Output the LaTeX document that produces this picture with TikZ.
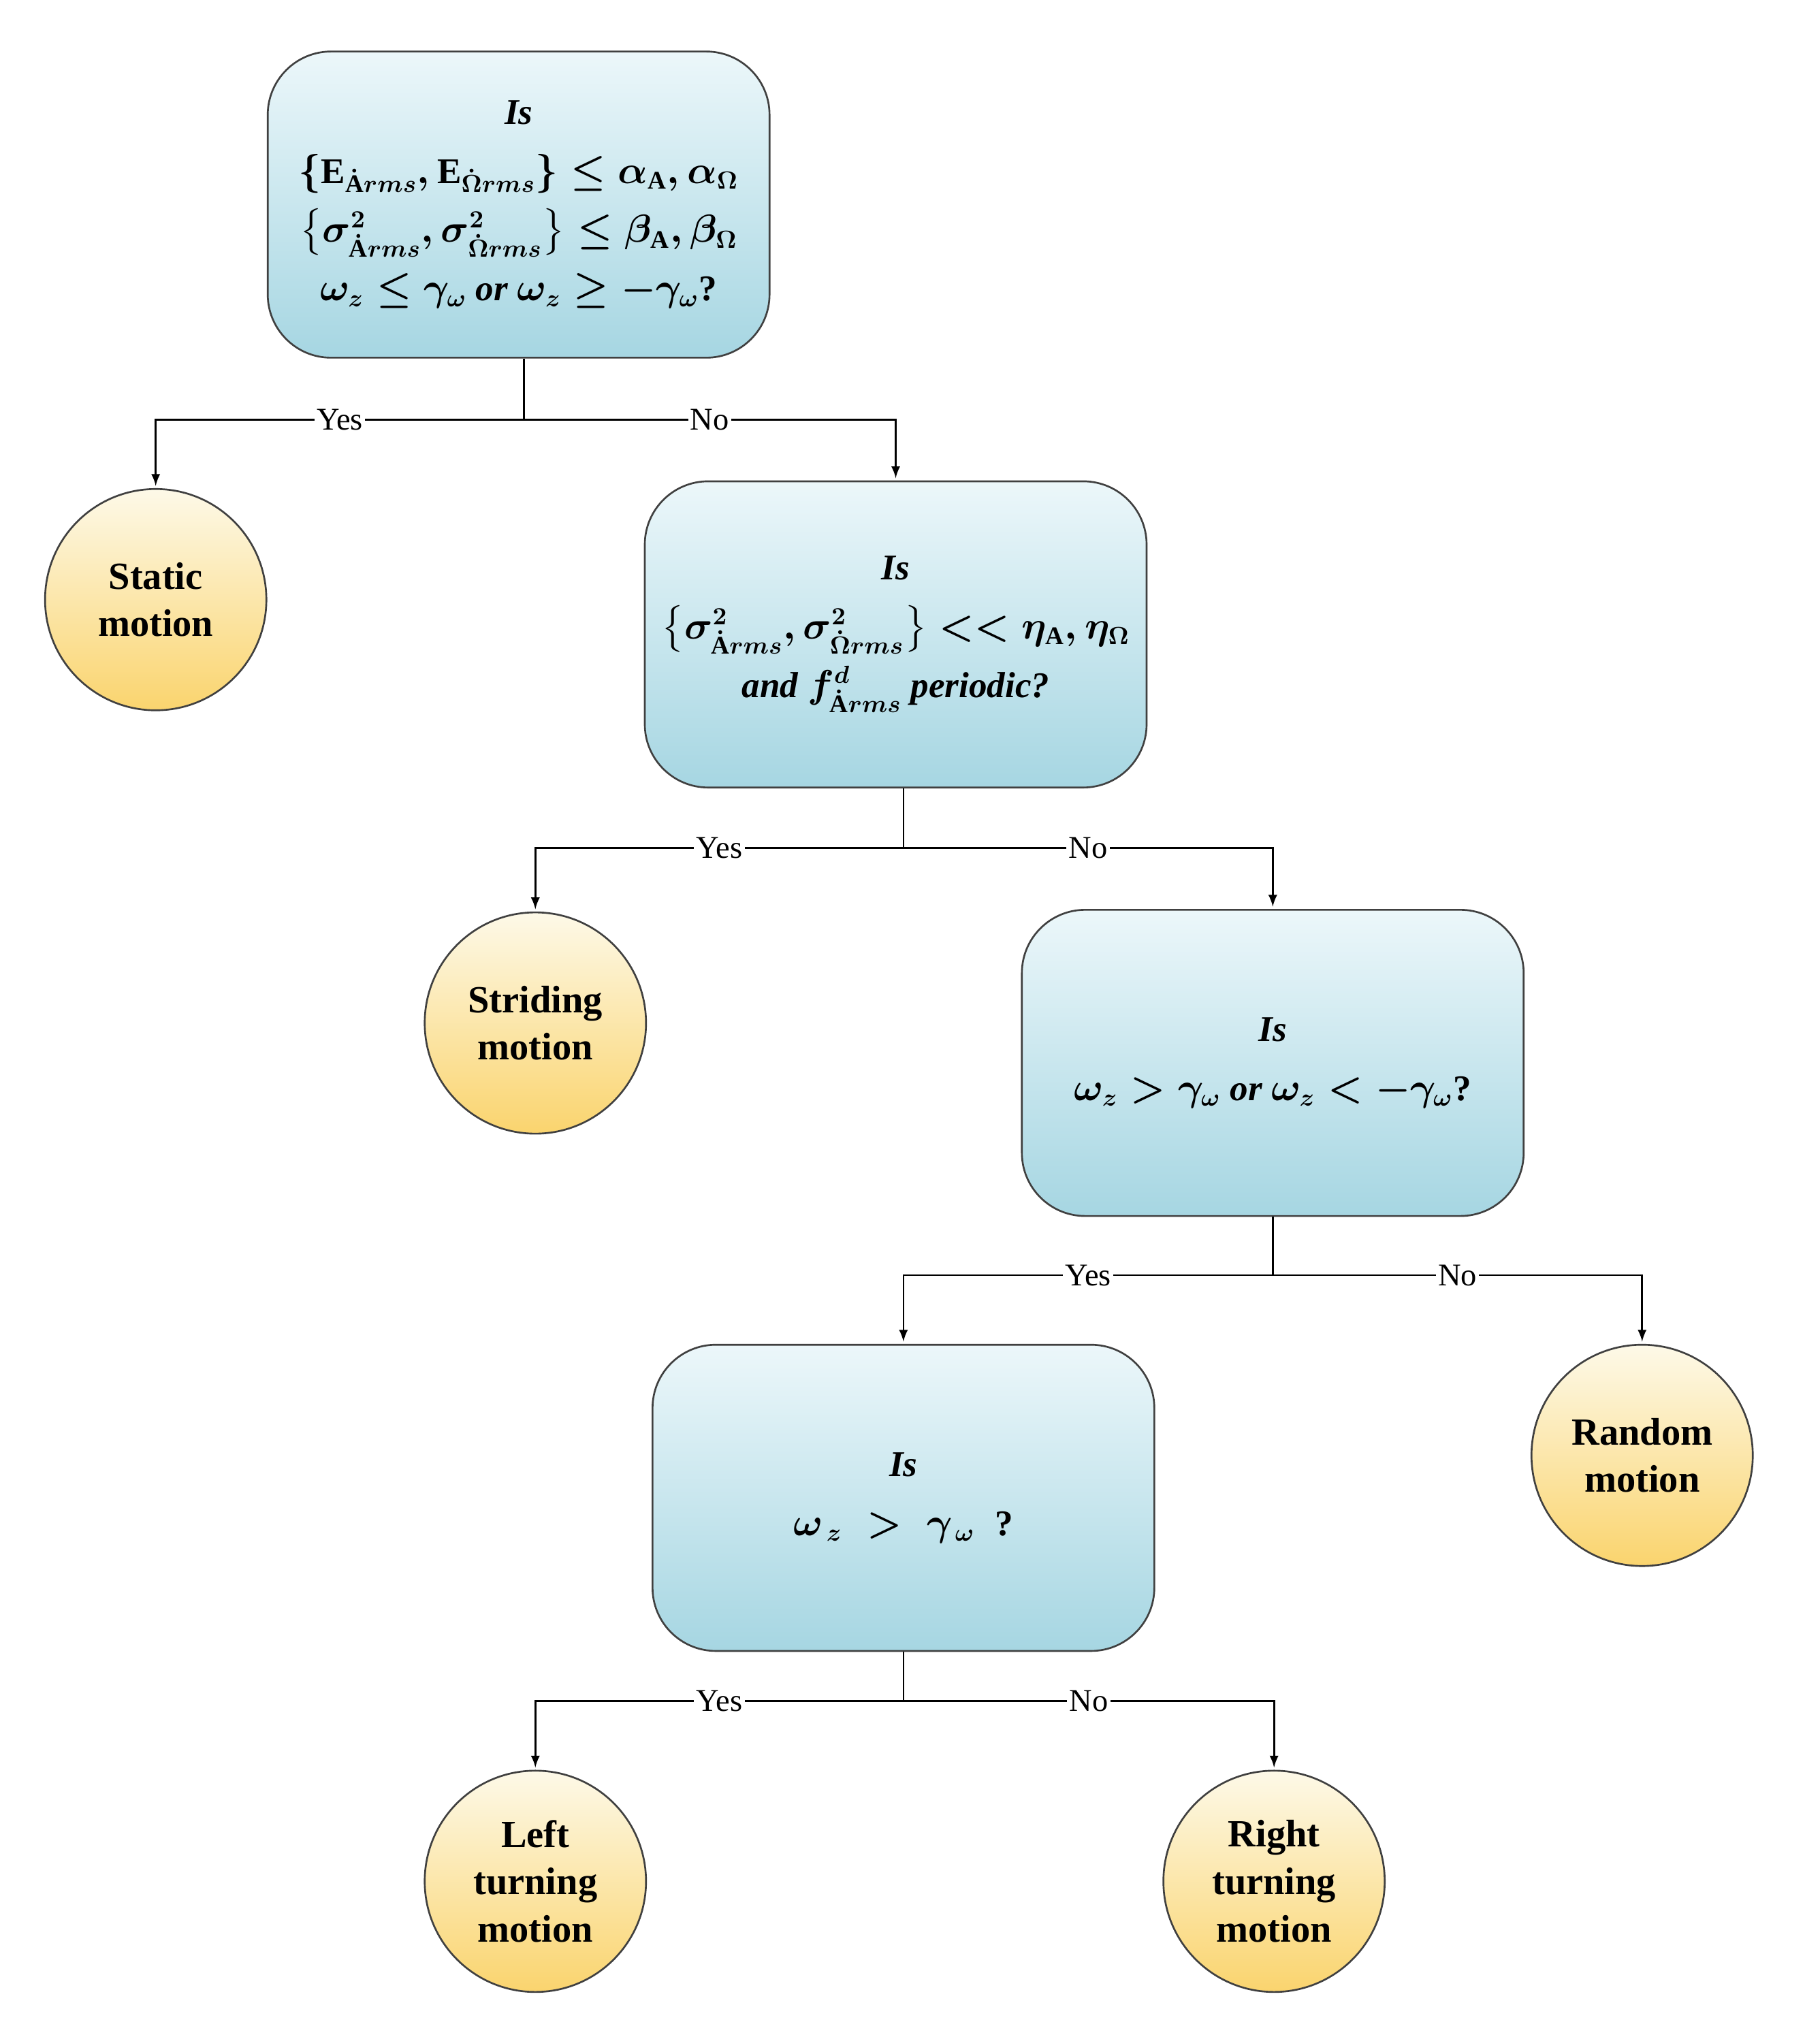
\documentclass[tikz,border=0pt]{standalone}
\usepackage{fontspec}
\usepackage{amsmath}
\setmainfont{Liberation Serif}
\usetikzlibrary{positioning}

\definecolor{boxtop}{RGB}{236,247,250}
\definecolor{boxbot}{RGB}{166,214,226}
\definecolor{leaftop}{RGB}{253,249,232}
\definecolor{leafbot}{RGB}{250,212,110}

\tikzset{
  test/.style={draw=black!75, thick, rounded corners=28pt, minimum width=7.8cm, minimum height=4.76cm,
    top color=boxtop, bottom color=boxbot, align=center,
    font=\fontsize{16}{26}\selectfont\bfseries\boldmath},
  leaf/.style={draw=black!75, thick, circle, minimum size=3.44cm, inner sep=0pt,
    top color=leaftop, bottom color=leafbot, align=center,
    font=\fontsize{17}{21}\selectfont\bfseries},
  arr/.style={-latex, thick, shorten >=1pt, >=latex},
  lbl/.style={fill=white, inner sep=1pt, font=\fontsize{14}{16}\selectfont}
}

\begin{document}
\begin{tikzpicture}[x=0.02cm, y=-0.02cm]
	\useasboundingbox (0,0) rectangle (1414,1583);

	% tests
	\node[test] (t1) at (403,159) {\textit{Is}\\
		$\left\{\mathrm{E}_{\dot{\mathrm{A}}rms},\mathrm{E}_{\dot{\Omega}rms}\right\}\le\alpha_{\mathrm{A}},\alpha_{\Omega}$\\
		$\left\{\sigma^2_{\dot{\mathrm{A}}rms},\sigma^2_{\dot{\Omega}rms}\right\}\le\beta_{\mathrm{A}},\beta_{\Omega}$\\
		$\omega_z\le\gamma_\omega$ \textit{or} $\omega_z\ge-\gamma_\omega$?};
	\node[test] (t2) at (696,493) {\textit{Is}\\
		$\left\{\sigma^2_{\dot{\mathrm{A}}rms},\sigma^2_{\dot{\Omega}rms}\right\}<<\eta_{\mathrm{A}},\eta_{\Omega}$\\
		\textit{and} $f^{d}_{\dot{\mathrm{A}}rms}$ \textit{periodic?}};
	\node[test] (t3) at (989,826) {\textit{Is}\\
		$\omega_z>\gamma_\omega$ \textit{or} $\omega_z<-\gamma_\omega$?};
	\node[test] (t4) at (702,1164) {\textit{Is}\\
		$\omega_{\,z}\;>\;\gamma_{\,\omega}$\;\;?};

	% leaves
	\node[leaf] (static) at (121,466) {Static\\motion};
	\node[leaf] (stride) at (416,795) {Striding\\motion};
	\node[leaf] (random) at (1276,1131) {Random\\motion};
	\node[leaf] (left) at (416,1462) {Left\\turning\\motion};
	\node[leaf] (right) at (990,1462) {Right\\turning\\motion};

	% branches
	\draw[thick] (t1.south -| 407,0) -- (407,326) coordinate (j1);
	\draw[arr] (j1) -- node[lbl]{Yes} (j1 -| static) -- (static);
	\draw[arr] (j1) -- node[lbl]{No} (j1 -| t2) -- (t2);

	\draw[thick] (t2.south -| 702,0) -- (702,659) coordinate (j2);
	\draw[arr] (j2) -- node[lbl]{Yes} (j2 -| stride) -- (stride);
	\draw[arr] (j2) -- node[lbl]{No} (j2 -| t3) -- (t3);

	\draw[thick] (t3.south) -- (989,991) coordinate (j3);
	\draw[arr] (j3) -- node[lbl]{Yes} (j3 -| t4) -- (t4);
	\draw[arr] (j3) -- node[lbl]{No} (j3 -| random) -- (random);

	\draw[thick] (t4.south) -- (702,1322) coordinate (j4);
	\draw[arr] (j4) -- node[lbl]{Yes} (j4 -| left) -- (left);
	\draw[arr] (j4) -- node[lbl]{No} (j4 -| right) -- (right);
\end{tikzpicture}
\end{document}
